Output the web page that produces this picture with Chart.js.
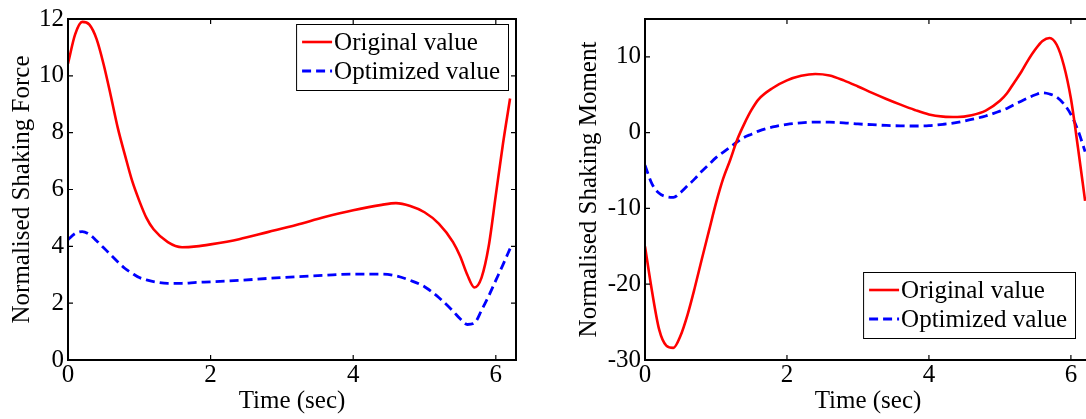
<!DOCTYPE html>
<html><head><meta charset="utf-8">
<script src="https://cdn.jsdelivr.net/npm/chart.js@4"></script>
<style>
html,body{margin:0;padding:0;background:#fff;overflow:hidden;width:1086px;height:419px;position:relative;}
#w1{position:absolute;left:0;top:0;}
#w2{position:absolute;left:545px;top:0;}
canvas{display:block;}
</style></head><body>
<div id="w1"><canvas id="c1" width="540" height="419"></canvas></div>
<div id="w2"><canvas id="c2" width="560" height="419"></canvas></div>
<script>
// ---- data ----
const timeForce = [0,0.1,0.2,0.3,0.4,0.5,0.6,0.7,0.8,0.9,1.0,1.1,1.2,1.4,1.6,1.8,2.0,2.4,2.8,3.2,3.6,4.0,4.4,4.6,4.8,5.0,5.2,5.4,5.5,5.6,5.7,5.8,5.9,6.0,6.1,6.2];
const forceOriginal = [10.43,11.46,11.9,11.8,11.3,10.4,9.3,8.15,7.2,6.3,5.6,5.0,4.6,4.15,3.97,4.0,4.07,4.25,4.5,4.75,5.03,5.27,5.46,5.52,5.42,5.2,4.8,4.15,3.65,3.0,2.55,2.9,4.0,5.8,7.6,9.2];
const forceOptimized = [4.23,4.45,4.52,4.42,4.2,3.95,3.7,3.45,3.22,3.05,2.9,2.82,2.76,2.7,2.7,2.73,2.75,2.8,2.87,2.93,2.98,3.02,3.02,2.96,2.8,2.58,2.2,1.72,1.45,1.25,1.3,1.75,2.25,2.8,3.35,3.92];

const timeMoment = [0,0.1,0.2,0.3,0.4,0.5,0.6,0.7,0.8,0.9,1.0,1.1,1.2,1.3,1.4,1.5,1.6,1.8,2.0,2.2,2.4,2.6,2.8,3.0,3.2,3.4,3.6,3.8,4.0,4.2,4.4,4.6,4.8,5.0,5.1,5.2,5.3,5.4,5.5,5.6,5.7,5.8,5.9,6.0,6.1,6.2];
const momentOriginal = [-15,-21,-26,-28.1,-28.4,-26.8,-24,-20.5,-16.7,-13,-9.3,-6.1,-3.6,-0.9,1.2,3.0,4.4,5.9,6.9,7.5,7.75,7.55,6.9,6.1,5.25,4.45,3.7,3.0,2.4,2.12,2.06,2.3,2.9,4.2,5.2,6.6,8.0,9.6,11.0,12.1,12.5,11.6,8.9,4.5,-2.0,-9.0];
const momentOptimized = [-4.3,-6.8,-8.0,-8.45,-8.55,-7.9,-7.0,-6.1,-5.1,-4.2,-3.3,-2.6,-1.9,-1.2,-0.6,-0.2,0.2,0.75,1.1,1.3,1.4,1.38,1.3,1.15,1.05,0.95,0.9,0.88,0.92,1.1,1.35,1.75,2.2,2.85,3.2,3.7,4.15,4.6,5.0,5.26,5.1,4.7,3.8,2.4,0.3,-2.5];

const timeTicks = [0,2,4,6];
const forceTicks = [0,2,4,6,8,10,12];
const momentTicks = [-30,-20,-10,0,10];
const seriesNames = ['Original value','Optimized value'];
const xTitle = 'Time (sec)';
const forceTitle = 'Normalised Shaking Force';
const momentTitle = 'Normalised Shaking Moment';

// ---- styling ----
const FAMILY = "'Liberation Serif', 'Times New Roman', serif";
const FONT = {family: FAMILY, size: 25, lineHeight: 1.2};

const pts = (xs, ys) => xs.map((x, i) => ({x, y: ys[i]}));

const frame = {
  id: 'frame',
  afterDraw(chart, args, opts) {
    const {ctx, chartArea: a, scales: {x, y}} = chart;
    ctx.save();
    // inward tick marks on all four sides
    ctx.strokeStyle = '#000';
    ctx.lineWidth = 1.2;
    const tl = 5;
    ctx.beginPath();
    x.ticks.forEach(t => {
      const px = x.getPixelForValue(t.value);
      ctx.moveTo(px, a.bottom); ctx.lineTo(px, a.bottom - tl);
      ctx.moveTo(px, a.top); ctx.lineTo(px, a.top + tl);
    });
    y.ticks.forEach(t => {
      const py = y.getPixelForValue(t.value);
      ctx.moveTo(a.left, py); ctx.lineTo(a.left + tl, py);
      ctx.moveTo(a.right, py); ctx.lineTo(a.right - tl, py);
    });
    ctx.stroke();
    // box
    ctx.lineWidth = 2;
    ctx.strokeRect(a.left, a.top, a.right - a.left, a.bottom - a.top);

    // legend
    ctx.font = `25px ${FAMILY}`;
    const ds = chart.data.datasets;
    const textW = Math.max(...ds.map(d => ctx.measureText(d.label).width));
    const w = 6 + 30 + 3 + textW + 7;
    const h = 66;
    const left = a.right - opts.dx - w;
    const top = opts.corner === 'top' ? a.top + opts.dy : a.bottom - opts.dy - h;
    ctx.fillStyle = '#fff';
    ctx.fillRect(left, top, w, h);
    ctx.lineWidth = 1;
    ctx.strokeStyle = '#000';
    ctx.strokeRect(left + 0.5, top + 0.5, w, h);
    ds.forEach((d, i) => {
      const yy = top + 18 + i * 29;
      ctx.beginPath();
      ctx.strokeStyle = d.borderColor;
      ctx.lineWidth = d.borderWidth;
      ctx.setLineDash(d.borderDash || []);
      ctx.moveTo(left + 6, yy); ctx.lineTo(left + 36, yy);
      ctx.stroke();
      ctx.setLineDash([]);
      ctx.fillStyle = '#000';
      ctx.textBaseline = 'middle';
      ctx.textAlign = 'left';
      ctx.fillText(d.label, left + 38, yy + 1);
    });
    ctx.restore();
  }
};

function makeChart(id, xs, ys1, ys2, yTicks, yMin, yMax, yTitle, yWidth, yTitlePad, padRight, legendOpts) {
  return new Chart(document.getElementById(id), {
    type: 'line',
    data: {
      datasets: [
        {label: seriesNames[0], data: pts(xs, ys1), borderColor: '#ff0000', borderWidth: 2.6,
         pointRadius: 0, cubicInterpolationMode: 'monotone', fill: false},
        {label: seriesNames[1], data: pts(xs, ys2), borderColor: '#0000ff', borderWidth: 2.8,
         borderDash: [9, 5], pointRadius: 0, cubicInterpolationMode: 'monotone', fill: false}
      ]
    },
    options: {
      responsive: false,
      animation: false,
      events: [],
      layout: {padding: {top: 18, right: padRight, bottom: 0, left: 0}},
      plugins: {legend: {display: false}, tooltip: {enabled: false}, frame: legendOpts},
      scales: {
        x: {
          type: 'linear', min: 0, max: 2 * Math.PI,
          afterBuildTicks: s => { s.ticks = timeTicks.map(v => ({value: v})); },
          afterFit: s => { s.height = 59; },
          grid: {display: false, drawTicks: false, tickLength: 0},
          border: {display: false},
          ticks: {color: '#000', font: FONT, padding: 0, maxRotation: 0},
          title: {display: true, text: xTitle, color: '#000', font: FONT, padding: {top: 0, bottom: 3}}
        },
        y: {
          type: 'linear', min: yMin, max: yMax,
          afterBuildTicks: s => { s.ticks = yTicks.map(v => ({value: v})); },
          afterFit: s => { s.width = yWidth; },
          grid: {display: false, drawTicks: false, tickLength: 0},
          border: {display: false},
          ticks: {color: '#000', font: FONT, padding: 4},
          title: {display: true, text: yTitle, color: '#000', font: FONT, padding: {top: yTitlePad, bottom: 0}}
        }
      }
    },
    plugins: [frame]
  });
}

makeChart('c1', timeForce, forceOriginal, forceOptimized, forceTicks, 0, 12, forceTitle, 68, 7, 24,
  {corner: 'top', dx: 8, dy: 5});
makeChart('c2', timeMoment, momentOriginal, momentOptimized, momentTicks, -30, 15, momentTitle, 100, 29, 14,
  {corner: 'bottom', dx: 16, dy: 22});
</script>
</body></html>
